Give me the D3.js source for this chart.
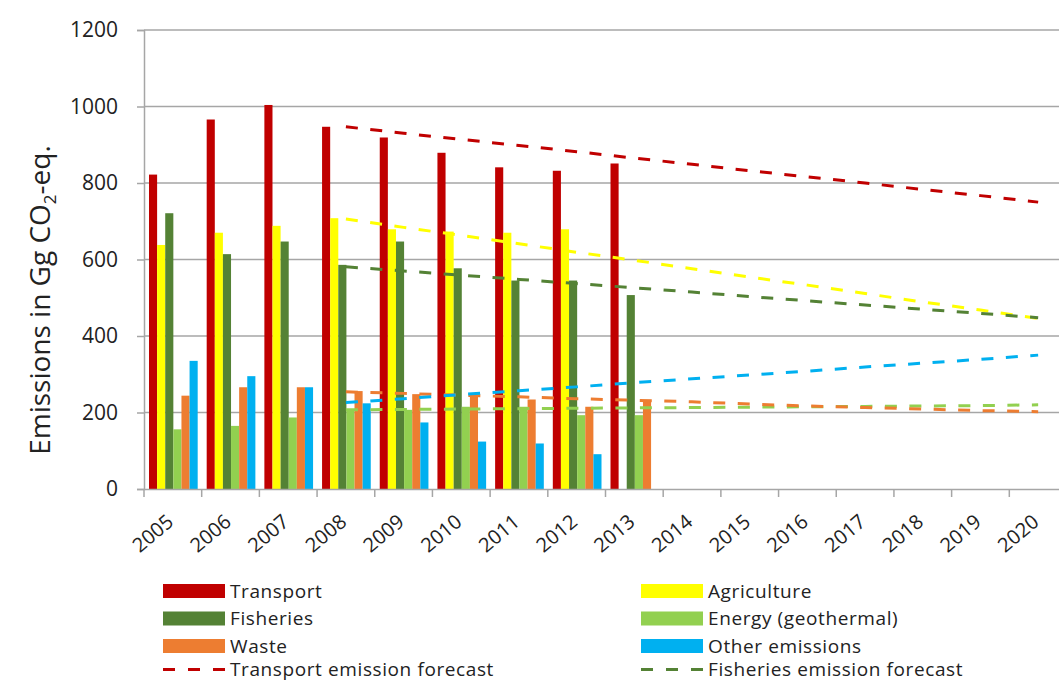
<!DOCTYPE html>
<html>
<head>
<meta charset="utf-8">
<script src="https://cdn.jsdelivr.net/npm/d3@7"></script>
<style>
  body { margin: 0; background: #fff; }
  text { font-family: "Open Sans", sans-serif; fill: #222; }
</style>
</head>
<body>
<div class="canvas"></div>
<script>
const canvasWidth = 1059;
const canvasHeight = 681;
const margin = { top: 30, left: 144, bottom: 192, right: -8 };
const graphWidth = canvasWidth - margin.left - margin.right;
const graphHeight = canvasHeight - margin.top - margin.bottom;

// data
const years = ['2005','2006','2007','2008','2009','2010','2011','2012','2013','2014','2015','2016','2017','2018','2019','2020'];
const yTicks = [0, 200, 400, 600, 800, 1000, 1200];

const transport   = [822, 966, 1004, 947, 919, 879, 841, 832, 851];
const agriculture = [638, 670, 688, 708, 679, 673, 670, 679, null];
const fisheries   = [721, 614, 647, 586, 647, 577, 545, 545, 507];
const energy      = [156, 165, 187, 208, 207, 215, 215, 193, 193];
const waste       = [244, 266, 266, 256, 248, 246, 234, 215, 233];
const other       = [335, 295, 266, 224, 174, 124, 119, 91, null];

const forecastYears = ['2008','2009','2010','2011','2012','2013','2014','2015','2016','2017','2018','2019','2020'];
const transportForecast   = [947, 930, 914, 898, 882, 865, 849, 832, 816, 800, 783, 767, 750];
const agricultureForecast = [706, 684, 663, 641, 619, 598, 576, 554, 533, 511, 489, 468, 446];
const fisheriesForecast   = [581, 570, 559, 548, 537, 526, 515, 503, 492, 481, 470, 459, 448];
const energyForecast      = [207, 208, 209, 210, 211, 212, 213, 214, 215, 216, 217, 218, 220];
const wasteForecast       = [254, 250, 245, 241, 236, 232, 228, 222, 217, 213, 209, 205, 202];
const otherForecast       = [226, 236, 247, 257, 267, 278, 288, 298, 308, 319, 329, 339, 350];

const seriesNames = ['Transport', 'Agriculture', 'Fisheries', 'Energy (geothermal)', 'Waste', 'Other emissions'];
const seriesColors = ['#C00000', '#FFFF00', '#548235', '#92D050', '#ED7D31', '#00B0F0'];
const seriesValues = [transport, agriculture, fisheries, energy, waste, other];
const forecastValues = [transportForecast, agricultureForecast, fisheriesForecast, energyForecast, wasteForecast, otherForecast];

const svg = d3.select('.canvas')
	.append('svg')
	.attr('width', canvasWidth)
	.attr('height', canvasHeight);

svg.append('rect')
	.attr('width', canvasWidth)
	.attr('height', canvasHeight)
	.attr('fill', '#fff');

const graph = svg.append('g')
	.attr('transform', `translate(${margin.left},${margin.top})`);

const y = d3.scaleLinear()
	.domain([0, 1200])
	.range([graphHeight, 0]);

const x = d3.scaleBand()
	.domain(years)
	.range([0, graphWidth])
	.padding(0);

const xInner = d3.scaleBand()
	.domain(seriesNames)
	.range([5, x.bandwidth() - 4])
	.padding(0);

// gridlines
graph.append('g')
	.selectAll('line')
	.data(yTicks.slice(1))
	.enter()
	.append('line')
	.attr('x1', 0)
	.attr('x2', graphWidth)
	.attr('y1', d => y(d))
	.attr('y2', d => y(d))
	.attr('stroke', '#a6a6a6')
	.attr('stroke-width', 1.5);

// bars
const rows = [];
seriesValues.forEach((vals, i) => {
	vals.forEach((v, j) => {
		if (v != null) rows.push({ year: years[j], name: seriesNames[i], value: v, color: seriesColors[i] });
	});
});

graph.append('g')
	.selectAll('rect')
	.data(rows)
	.enter()
	.append('rect')
	.attr('x', d => x(d.year) + xInner(d.name))
	.attr('y', d => y(d.value))
	.attr('width', xInner.bandwidth())
	.attr('height', d => graphHeight - y(d.value))
	.attr('fill', d => d.color);

// forecast lines
const line = d3.line()
	.x((d, i) => x(forecastYears[i]) + x.bandwidth() / 2)
	.y(d => y(d));

graph.append('g')
	.selectAll('path')
	.data(forecastValues)
	.enter()
	.append('path')
	.attr('d', d => line(d))
	.attr('fill', 'none')
	.attr('stroke', (d, i) => seriesColors[i])
	.attr('stroke-width', 3)
	.attr('stroke-dasharray', '12,12.5');

// axes
const xAxis = d3.axisBottom(x).tickSize(0);
const yAxis = d3.axisLeft(y)
	.tickValues(yTicks)
	.tickFormat(d3.format('d'))
	.tickSize(7)
	.tickPadding(19);

const xAxisGroup = graph.append('g')
	.attr('transform', `translate(0,${graphHeight})`)
	.call(xAxis);
xAxisGroup.select('.domain')
	.attr('stroke', '#a6a6a6')
	.attr('stroke-width', 1.5);

// category boundary ticks
xAxisGroup.append('g')
	.selectAll('line')
	.data(years)
	.enter()
	.append('line')
	.attr('x1', d => x(d))
	.attr('x2', d => x(d))
	.attr('y1', 0)
	.attr('y2', 8)
	.attr('stroke', '#a6a6a6')
	.attr('stroke-width', 1.5);

xAxisGroup.selectAll('.tick text')
	.attr('font-size', 20)
	.attr('text-anchor', 'end')
	.attr('y', 0)
	.attr('dy', 0)
	.attr('transform', 'translate(2,35) rotate(-40)');

const yAxisGroup = graph.append('g')
	.call(yAxis);
yAxisGroup.selectAll('line, .domain')
	.attr('stroke', '#a6a6a6')
	.attr('stroke-width', 1.5);
yAxisGroup.selectAll('text')
	.attr('font-size', 21);

// axis title
const title = svg.append('text')
	.attr('transform', `translate(50,300) rotate(-90)`)
	.attr('text-anchor', 'middle')
	.attr('font-size', 28);
title.append('tspan').text('Emissions in Gg CO');
title.append('tspan').attr('font-size', 17).attr('dy', 6).text('2');
title.append('tspan').attr('dy', -6).text('-eq.');

// legend
const legendItems = [
	{ label: 'Transport', color: seriesColors[0], col: 0, row: 0 },
	{ label: 'Agriculture', color: seriesColors[1], col: 1, row: 0 },
	{ label: 'Fisheries', color: seriesColors[2], col: 0, row: 1 },
	{ label: 'Energy (geothermal)', color: seriesColors[3], col: 1, row: 1 },
	{ label: 'Waste', color: seriesColors[4], col: 0, row: 2 },
	{ label: 'Other emissions', color: seriesColors[5], col: 1, row: 2 },
	{ label: 'Transport emission forecast', color: seriesColors[0], col: 0, row: 3, dash: true },
	{ label: 'Fisheries emission forecast', color: seriesColors[2], col: 1, row: 3, dash: true }
];
const colX = [163, 641];
const rowY = [591, 618.5, 646, 669.5];

const legend = svg.append('g');
const items = legend.selectAll('g')
	.data(legendItems)
	.enter()
	.append('g')
	.attr('transform', d => `translate(${colX[d.col]},${rowY[d.row]})`);

items.filter(d => !d.dash)
	.append('rect')
	.attr('x', 0)
	.attr('y', -7)
	.attr('width', 62)
	.attr('height', 14)
	.attr('fill', d => d.color);

items.filter(d => d.dash)
	.append('line')
	.attr('x1', 0)
	.attr('x2', 62)
	.attr('stroke', d => d.color)
	.attr('stroke-width', 3)
	.attr('stroke-dasharray', '12,13');

items.append('text')
	.attr('x', 67)
	.attr('dy', '0.35em')
	.attr('font-size', 19)
	.attr('letter-spacing', 0.6)
	.text(d => d.label);
</script>
</body>
</html>
